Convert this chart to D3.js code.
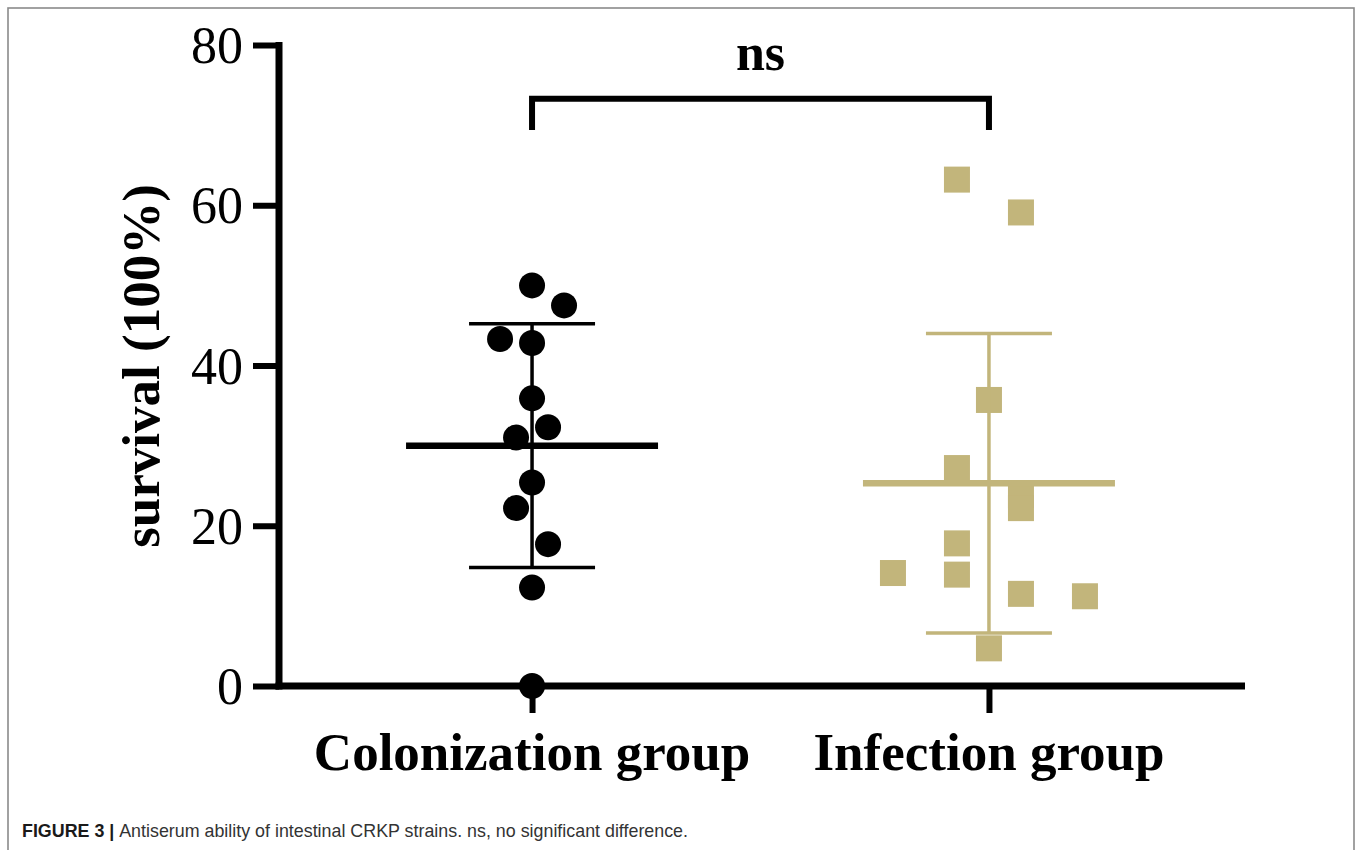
<!DOCTYPE html>
<html>
<head>
<meta charset="utf-8">
<script src="https://cdn.jsdelivr.net/npm/d3@7"></script>
<style>
  html, body { margin: 0; padding: 0; background: #fff; }
  svg { display: block; }
</style>
</head>
<body>
<svg id="chart" width="1357" height="850"></svg>
<script>
// ---- data ----
const categories = ["Colonization group", "Infection group"];
const colonizationValues = [50.0, 47.5, 43.3, 42.8, 35.9, 32.3, 31.0, 25.4, 22.2, 17.7, 12.3, 0];
const colonizationJitter = [0, 1, -1, 0, 0, 0.5, -0.5, 0, -0.5, 0.5, 0, 0];
const infectionValues = [63.2, 59.1, 35.7, 27.2, 23.8, 22.2, 17.8, 14.1, 13.9, 11.5, 11.2, 4.7];
const infectionJitter = [-1, 1, 0, -1, 1, 1, -1, -3, -1, 1, 3, 0];
const groupMeans = [30.0, 25.3];
const groupSD = [15.2, 18.7];
const yTicks = [0, 20, 40, 60, 80];
const yTitle = "survival (100%)";
const sigLabel = "ns";
const captionBold = "FIGURE 3 | ";
const captionText = "Antiserum ability of intestinal CRKP strains. ns, no significant difference.";

// ---- layout ----
const svg = d3.select("#chart");
const serif = "'Liberation Serif', 'Times New Roman', Times, serif";
const colors = ["#000000", "#c2b57b"];

// frame
svg.append("rect")
  .attr("x", 8).attr("y", 8).attr("width", 1346).attr("height", 870)
  .attr("fill", "none").attr("stroke", "#8a8a8a").attr("stroke-width", 1.6);

const x = d3.scalePoint().domain(categories).range([278, 1243]).padding(0.556);
const y = d3.scaleLinear().domain([0, 80]).range([686, 45]);
const jitter = d3.scaleLinear().domain([-1, 1]).range([-32, 32]);

// y axis
const yAxis = svg.append("g")
  .attr("transform", "translate(279,0)")
  .call(d3.axisLeft(y).tickValues(yTicks).tickSize(26).tickPadding(10).tickFormat(d3.format("d")));
yAxis.select(".domain").remove();
yAxis.selectAll(".tick line").attr("stroke", "#000").attr("stroke-width", 6);
yAxis.selectAll(".tick text")
  .attr("font-family", serif).attr("font-size", 52).attr("fill", "#000")
  .attr("dy", "0.34em");
yAxis.append("line")
  .attr("x1", 0).attr("x2", 0)
  .attr("y1", y(80) - 3).attr("y2", y(0) + 3.5)
  .attr("stroke", "#000").attr("stroke-width", 7);

// x axis
const xAxis = svg.append("g")
  .attr("transform", "translate(0,686)")
  .call(d3.axisBottom(x).tickSize(27).tickPadding(0).tickFormat(() => ""));
xAxis.select(".domain").remove();
xAxis.selectAll(".tick line").attr("stroke", "#000").attr("stroke-width", 6);
xAxis.append("line")
  .attr("x1", 275.5).attr("x2", 1245)
  .attr("y1", 0).attr("y2", 0)
  .attr("stroke", "#000").attr("stroke-width", 7);

// x category labels
svg.selectAll("text.xlab")
  .data(categories)
  .join("text")
  .attr("class", "xlab")
  .attr("x", d => x(d))
  .attr("y", 770)
  .attr("text-anchor", "middle")
  .attr("font-family", serif)
  .attr("font-weight", "bold")
  .attr("font-size", 53)
  .attr("fill", "#000")
  .text(d => d);

// y title
svg.append("text")
  .attr("transform", "translate(159,366) rotate(-90)")
  .attr("text-anchor", "middle")
  .attr("font-family", serif)
  .attr("font-weight", "bold")
  .attr("font-size", 53)
  .attr("fill", "#000")
  .text(yTitle);

// points: colonization (circles)
const colPts = colonizationValues.map((v, i) => ({ v, j: colonizationJitter[i] }));
svg.append("g").selectAll("circle")
  .data(colPts)
  .join("circle")
  .attr("cx", d => x(categories[0]) + jitter(d.j))
  .attr("cy", d => y(d.v))
  .attr("r", 13)
  .attr("fill", colors[0]);

// points: infection (squares)
const infPts = infectionValues.map((v, i) => ({ v, j: infectionJitter[i] }));
const sq = 26;
svg.append("g").selectAll("rect")
  .data(infPts)
  .join("rect")
  .attr("x", d => x(categories[1]) + jitter(d.j) - sq / 2)
  .attr("y", d => y(d.v) - sq / 2)
  .attr("width", sq).attr("height", sq)
  .attr("fill", colors[1]);

// mean +/- SD bars
categories.forEach((c, i) => {
  const cx = x(c);
  const g = svg.append("g").attr("stroke", colors[i]);
  const m = groupMeans[i], s = groupSD[i];
  g.append("line").attr("x1", cx).attr("x2", cx)
    .attr("y1", y(m + s)).attr("y2", y(m - s)).attr("stroke-width", 3.5);
  g.append("line").attr("x1", cx - 63).attr("x2", cx + 63)
    .attr("y1", y(m + s)).attr("y2", y(m + s)).attr("stroke-width", 3.5);
  g.append("line").attr("x1", cx - 63).attr("x2", cx + 63)
    .attr("y1", y(m - s)).attr("y2", y(m - s)).attr("stroke-width", 3.5);
  g.append("line").attr("x1", cx - 126).attr("x2", cx + 126)
    .attr("y1", y(m)).attr("y2", y(m)).attr("stroke-width", 6.5);
});

// significance bracket
const bTop = y(73.3), bBot = y(69.4);
svg.append("path")
  .attr("d", d3.line()([[x(categories[0]), bBot], [x(categories[0]), bTop], [x(categories[1]), bTop], [x(categories[1]), bBot]]))
  .attr("fill", "none").attr("stroke", "#000").attr("stroke-width", 6)
  .attr("stroke-linejoin", "miter").attr("stroke-linecap", "butt");
svg.append("text")
  .attr("x", (x(categories[0]) + x(categories[1])) / 2)
  .attr("y", bTop - 29)
  .attr("text-anchor", "middle")
  .attr("font-family", serif)
  .attr("font-weight", "bold")
  .attr("font-size", 52)
  .attr("fill", "#000")
  .text(sigLabel);

// caption
const cap = svg.append("text")
  .attr("x", 22).attr("y", 837)
  .attr("font-family", "'Liberation Sans Narrow', 'Liberation Sans', Arial, sans-serif")
  .attr("font-size", 19)
  .attr("textLength", 666)
  .attr("lengthAdjust", "spacingAndGlyphs");
cap.append("tspan").attr("font-weight", "bold").attr("fill", "#1a1a1a").text(captionBold);
cap.append("tspan").attr("fill", "#333").text(captionText);
</script>
</body>
</html>
